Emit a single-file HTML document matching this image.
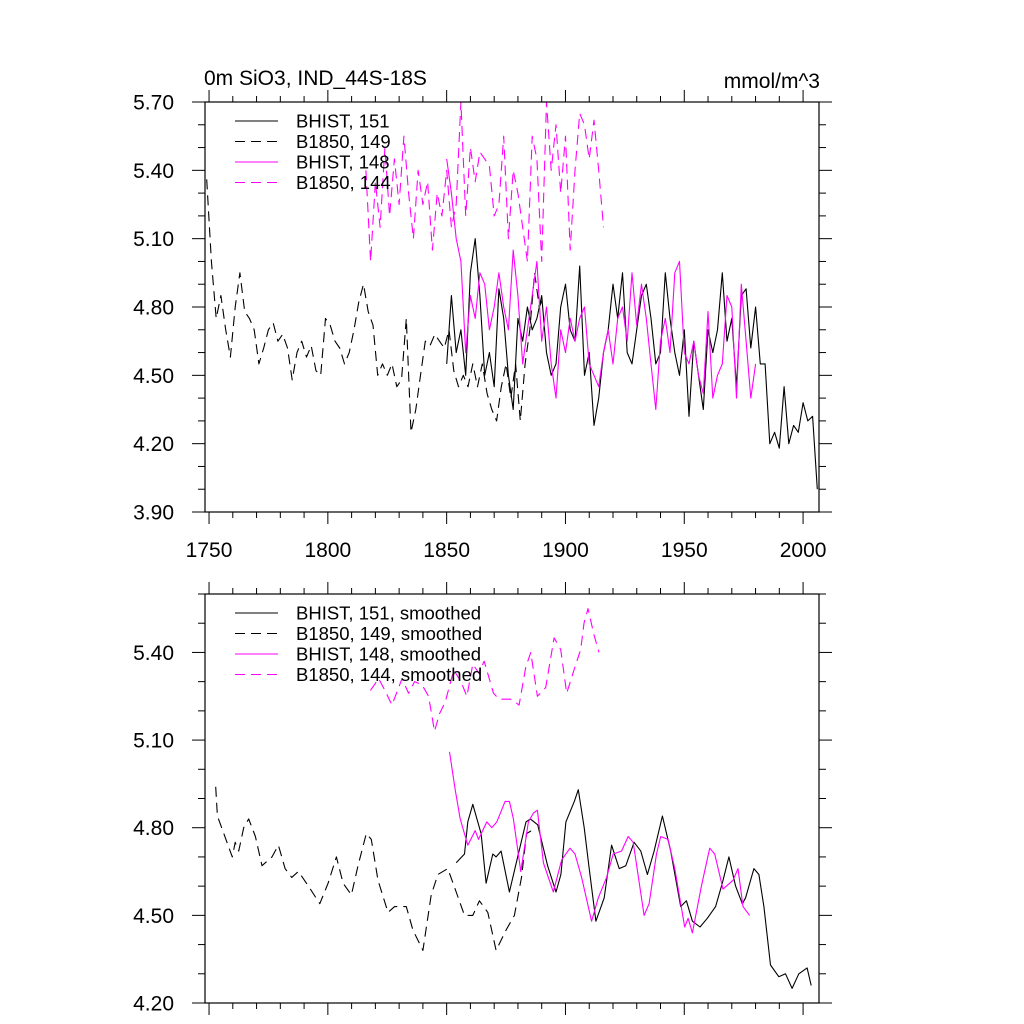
<!DOCTYPE html>
<html><head><meta charset="utf-8"><style>
html,body{margin:0;padding:0;background:#fff;}
svg{display:block;font-family:"Liberation Sans",sans-serif;}
</style></head><body>
<svg id="chart" width="1024" height="1024" viewBox="0 0 1024 1024" xmlns="http://www.w3.org/2000/svg">
<text x="204" y="85" font-size="21">0m SiO3, IND_44S-18S</text>
<text x="820" y="88" font-size="21" text-anchor="end">mmol/m^3</text>
<g id="top"></g>
<g id="bot"></g>
</svg>
<script>
// ---- top panel data (annual, read approx) ----
const b149Years=[1749,1751,1753,1755,1757,1759,1761,1763,1765,1767,1769,1771,1773,1775,1777,1779,1781,1783,1785,1787,1789,1791,1793,1795,1797,1799,1801,1803,1805,1807,1809,1811,1813,1815,1817,1819,1821,1823,1825,1827,1829,1831,1833,1835,1837,1839,1841,1843,1845,1847,1849,1851,1853,1855,1857,1859,1861,1863,1865,1867,1869,1871,1873,1875,1877,1879,1881,1883,1885,1887,1889,1891];
const b149Vals=[5.36,5.00,4.75,4.85,4.70,4.58,4.80,4.95,4.78,4.75,4.70,4.55,4.62,4.70,4.73,4.65,4.68,4.62,4.48,4.60,4.65,4.58,4.63,4.52,4.50,4.75,4.72,4.65,4.62,4.55,4.60,4.70,4.82,4.90,4.78,4.72,4.50,4.55,4.50,4.55,4.45,4.48,4.75,4.25,4.35,4.50,4.65,4.63,4.68,4.65,4.62,4.70,4.52,4.45,4.50,4.45,4.55,4.45,4.55,4.42,4.35,4.30,4.45,4.55,4.40,4.55,4.30,4.55,4.70,4.95,4.80,4.85];
const b144Years=[1816,1818,1820,1822,1824,1826,1828,1830,1832,1834,1836,1838,1840,1842,1844,1846,1848,1850,1852,1854,1856,1858,1860,1862,1864,1866,1868,1870,1872,1874,1876,1878,1880,1882,1884,1886,1888,1890,1892,1894,1896,1898,1900,1902,1904,1906,1908,1910,1912,1914,1916];
const b144Vals=[5.40,5.00,5.35,5.15,5.50,5.20,5.45,5.25,5.55,5.30,5.10,5.40,5.25,5.35,5.05,5.30,5.20,5.40,5.15,5.25,5.70,5.20,5.50,5.35,5.48,5.45,5.42,5.20,5.25,5.55,5.10,5.40,5.30,5.15,5.00,5.55,5.45,5.00,5.70,5.40,5.60,5.30,5.55,5.05,5.40,5.65,5.60,5.45,5.62,5.40,5.15];
const h148Years=[1850,1852,1854,1856,1858,1860,1862,1864,1866,1868,1870,1872,1874,1876,1878,1880,1882,1884,1886,1888,1890,1892,1894,1896,1898,1900,1902,1904,1906,1908,1910,1912,1914,1916,1918,1920,1922,1924,1926,1928,1930,1932,1934,1936,1938,1940,1942,1944,1946,1948,1950,1952,1954,1956,1958,1960,1962,1964,1966,1968,1970,1972,1974,1976,1978,1980];
const h148Vals=[5.45,5.30,5.10,5.00,4.60,4.85,4.75,4.95,4.90,4.70,4.80,4.95,4.80,4.70,5.05,4.85,4.55,4.70,4.85,5.00,4.65,4.80,4.55,4.40,4.70,4.60,4.75,4.65,4.75,4.80,4.55,4.50,4.45,4.60,4.70,4.55,4.75,4.80,4.65,4.95,4.72,4.90,4.75,4.55,4.35,4.65,4.75,4.60,4.95,5.00,4.60,4.55,4.65,4.50,4.42,4.78,4.40,4.50,4.55,4.85,4.80,4.40,4.90,4.65,4.40,4.55];
const h151Years=[1850,1852,1854,1856,1858,1860,1862,1864,1866,1868,1870,1872,1874,1876,1878,1880,1882,1884,1886,1888,1890,1892,1894,1896,1898,1900,1902,1904,1906,1908,1910,1912,1914,1916,1918,1920,1922,1924,1926,1928,1930,1932,1934,1936,1938,1940,1942,1944,1946,1948,1950,1952,1954,1956,1958,1960,1962,1964,1966,1968,1970,1972,1974,1976,1978,1980,1982,1984,1986,1988,1990,1992,1994,1996,1998,2000,2002,2004,2006];
const h151Vals=[4.55,4.85,4.60,4.70,4.50,4.95,5.10,4.85,4.50,4.60,4.45,4.88,4.75,4.50,4.35,4.75,4.65,4.80,4.70,4.75,4.85,4.60,4.50,4.55,4.80,4.90,4.70,4.65,4.98,4.50,4.60,4.28,4.40,4.60,4.70,4.90,4.75,4.95,4.60,4.55,4.70,4.85,4.90,4.75,4.55,4.60,4.95,4.75,4.60,4.50,4.70,4.32,4.65,4.50,4.35,4.70,4.60,4.70,4.95,4.65,4.75,4.45,4.85,4.88,4.62,4.80,4.55,4.55,4.20,4.25,4.18,4.45,4.20,4.28,4.25,4.38,4.30,4.32,4.00];
// ---- bottom panel data (smoothed) ----
const s149Years=[1752.8,1753.5,1759.8,1761,1762.5,1764.6,1766.7,1769.5,1772.3,1776.5,1779.2,1782,1784.8,1787.6,1791.8,1796.6,1800.1,1803.6,1806.4,1809.9,1812.7,1816.2,1818.3,1821.1,1825.3,1828.1,1830.9,1833,1835.8,1840,1843.5,1846.3,1850.5,1854,1857.5,1861,1863.8,1867.3,1870.8,1875,1878.5,1881.5,1883.6,1885.7];
const s149Vals=[4.94,4.84,4.70,4.75,4.72,4.80,4.83,4.77,4.67,4.70,4.74,4.66,4.63,4.65,4.60,4.54,4.61,4.70,4.61,4.57,4.67,4.78,4.76,4.62,4.51,4.53,4.53,4.53,4.45,4.38,4.57,4.64,4.66,4.58,4.50,4.50,4.55,4.51,4.38,4.45,4.50,4.63,4.78,4.79];
const s144Years=[1817.9,1821.4,1824,1827,1831.2,1834,1836.5,1839.6,1842.4,1844.9,1847,1849.4,1853,1856,1858.5,1861,1863.5,1865.8,1869.7,1872.1,1877,1880.5,1883.3,1885.4,1888.2,1891.7,1895.2,1898,1900.5,1903.6,1906.4,1907.8,1909.5,1912,1914.1];
const s144Vals=[5.27,5.31,5.27,5.22,5.31,5.26,5.30,5.29,5.25,5.13,5.19,5.23,5.34,5.30,5.25,5.36,5.33,5.37,5.26,5.24,5.24,5.22,5.35,5.40,5.25,5.28,5.45,5.41,5.26,5.34,5.41,5.50,5.55,5.46,5.40];
const s148Years=[1851.2,1853.6,1855.7,1858.9,1862,1863.4,1866.9,1869,1871.1,1874.6,1876.4,1878.1,1881.2,1884.4,1886.5,1888.2,1890.7,1894.9,1898.4,1901.9,1904,1906.8,1911,1913.8,1917.3,1920.1,1923.6,1926.4,1928.5,1933.1,1935.2,1938.3,1940.1,1943.2,1946,1950.2,1951.6,1953.4,1957.2,1960.7,1962.8,1966.3,1970.5,1972.6,1974.7,1977.5];
const s148Vals=[5.06,4.93,4.83,4.74,4.79,4.76,4.82,4.80,4.82,4.89,4.89,4.83,4.65,4.82,4.85,4.86,4.68,4.58,4.69,4.73,4.71,4.63,4.48,4.56,4.63,4.71,4.72,4.77,4.75,4.50,4.54,4.71,4.77,4.76,4.66,4.46,4.49,4.44,4.60,4.73,4.71,4.59,4.62,4.66,4.53,4.50];
const s151Years=[1854,1857.5,1858.9,1861,1864.5,1866.6,1869.4,1870.8,1872.9,1876.4,1879.6,1883.4,1885.2,1888.3,1892.5,1896,1898.1,1900.2,1903.7,1905.4,1907.9,1910,1912.8,1916.3,1919.4,1922.6,1925.4,1928.9,1931.7,1934.5,1937.3,1940.8,1944.3,1948.5,1950.9,1953.4,1956.6,1959.7,1963.2,1966,1968.8,1971.6,1974.4,1975.8,1979.3,1981.4,1983.5,1986.3,1989.8,1992.6,1995.4,1998.2,2001.7,2003.4];
const s151Vals=[4.68,4.71,4.82,4.88,4.78,4.61,4.71,4.70,4.72,4.58,4.69,4.82,4.83,4.81,4.67,4.58,4.64,4.82,4.89,4.93,4.80,4.66,4.48,4.56,4.74,4.66,4.67,4.75,4.72,4.64,4.72,4.84,4.72,4.53,4.55,4.48,4.46,4.49,4.53,4.61,4.70,4.60,4.54,4.56,4.66,4.64,4.53,4.33,4.29,4.30,4.25,4.30,4.32,4.26];

const topTicks=["3.90","4.20","4.50","4.80","5.10","5.40","5.70"];
const botTicks=["4.20","4.50","4.80","5.10","5.40"];
const xTickLabels=["1750","1800","1850","1900","1950","2000"];

const NS="http://www.w3.org/2000/svg";
const X0=205,X1=819,YR0=1748.3,YR1=2006.7;
const xs=y=>X0+(y-YR0)/(YR1-YR0)*(X1-X0);
function mk(tag,attrs,parent){const e=document.createElementNS(NS,tag);for(const k in attrs)e.setAttribute(k,attrs[k]);parent.appendChild(e);return e;}

function panel(g,top,bot,vmin,vmax,ticks,showX,series,legend,legTop){
  const ys=v=>bot-(v-vmin)/(vmax-vmin)*(bot-top);
  // y ticks minor every 0.1
  for(let v=Math.ceil(vmin*10-1e-6)/10;v<=vmax+1e-6;v+=0.1){
    const major=Math.abs(v*10/3-Math.round(v*10/3))<1e-3;
    const L=major?13:7,y=ys(v);
    mk('line',{x1:X0-L,x2:X0,y1:y,y2:y,stroke:'#000','stroke-width':1},g);
    mk('line',{x1:X1,x2:X1+L,y1:y,y2:y,stroke:'#000','stroke-width':1},g);
  }
  ticks.forEach(t=>{const tx=mk('text',{x:X0-31,y:ys(parseFloat(t))+7.5,'font-size':21,'text-anchor':'end'},g);tx.textContent=t;
    
    });
  for(let yr=1750;yr<=2006;yr+=10){
    const major=yr%50===0,L=major?12:6,x=xs(yr);
    mk('line',{x1:x,x2:x,y1:top-L,y2:top,stroke:'#000','stroke-width':1},g);
    mk('line',{x1:x,x2:x,y1:bot,y2:bot+L,stroke:'#000','stroke-width':1},g);
  }
  if(showX) xTickLabels.forEach(t=>{const tx=mk('text',{x:xs(+t),y:bot+45,'font-size':21,'text-anchor':'middle'},g);tx.textContent=t;
    
    });
  series.forEach(s=>{
    const d=s.years.map((yr,i)=>(i?'L':'M')+xs(yr).toFixed(1)+','+ys(s.vals[i]).toFixed(1)).join('');
    const p=mk('path',{d:d,fill:'none',stroke:s.color,'stroke-width':1.1,'stroke-dasharray':s.dash||'none','stroke-linejoin':'round'},g);
    
    
  });
  const box=mk('rect',{x:X0,y:top,width:X1-X0,height:bot-top,fill:'none',stroke:'#000','stroke-width':1.2},g);
  
  
  legend.forEach((t,i)=>{const s=series[i];const y=legTop+i*20.5;
    const l=mk('line',{x1:235,x2:278,y1:y,y2:y,stroke:s.color,'stroke-width':1.1,'stroke-dasharray':s.dash||'none'},g);
    
    
    const tx=mk('text',{x:296,y:y+6.5,'font-size':18.5},g);tx.textContent=t;
    
    
  });
}
const D='10,6';
panel(document.getElementById('top'),102,512,3.90,5.70,topTicks,true,[
 {name:'bhist-151-line',years:h151Years,vals:h151Vals,color:'#000'},
 {name:'b1850-149-line',years:b149Years,vals:b149Vals,color:'#000',dash:D},
 {name:'bhist-148-line',years:h148Years,vals:h148Vals,color:'#ff00ff'},
 {name:'b1850-144-line',years:b144Years,vals:b144Vals,color:'#ff00ff',dash:D}
],["BHIST, 151","B1850, 149","BHIST, 148","B1850, 144"],121);
panel(document.getElementById('bot'),594,1003,4.20,5.60,botTicks,false,[
 {name:'bhist-151-smoothed-line',years:s151Years,vals:s151Vals,color:'#000'},
 {name:'b1850-149-smoothed-line',years:s149Years,vals:s149Vals,color:'#000',dash:D},
 {name:'bhist-148-smoothed-line',years:s148Years,vals:s148Vals,color:'#ff00ff'},
 {name:'b1850-144-smoothed-line',years:s144Years,vals:s144Vals,color:'#ff00ff',dash:D}
],["BHIST, 151, smoothed","B1850, 149, smoothed","BHIST, 148, smoothed","B1850, 144, smoothed"],613);
</script>
</body></html>
